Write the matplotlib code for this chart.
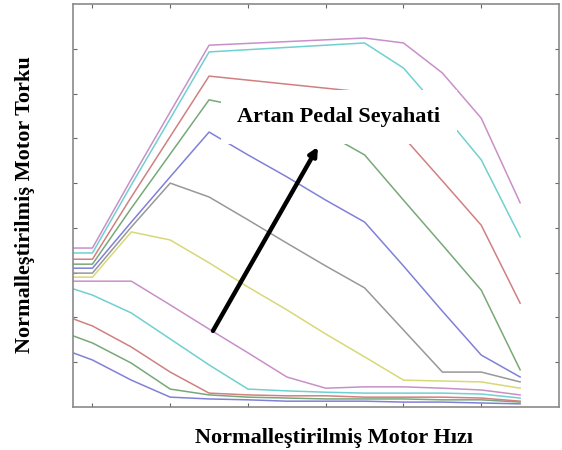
import numpy as np
import matplotlib.pyplot as plt

# normalized motor speed grid (tick units)
speed = [0.75, 1.0, 1.5, 2.0, 2.5, 3.0, 3.5, 4.0, 4.5, 5.0, 5.5, 6.0, 6.5]

# torque curves, lowest pedal travel first
t01 = [0.121, 0.105, 0.060, 0.022, 0.018, 0.016, 0.013, 0.013, 0.013, 0.011, 0.011, 0.009, 0.007]
t02 = [0.159, 0.143, 0.098, 0.040, 0.027, 0.022, 0.020, 0.018, 0.018, 0.018, 0.016, 0.016, 0.011]
t03 = [0.197, 0.181, 0.134, 0.078, 0.031, 0.027, 0.025, 0.025, 0.022, 0.022, 0.022, 0.020, 0.013]
t04 = [0.264, 0.250, 0.210, 0.152, 0.094, 0.040, 0.036, 0.033, 0.031, 0.031, 0.031, 0.029, 0.020]
t05 = [0.281, 0.281, 0.281, 0.228, 0.174, 0.121, 0.067, 0.042, 0.045, 0.045, 0.042, 0.038, 0.027]
t06 = [0.290, 0.290, 0.391, 0.373, 0.322, 0.268, 0.217, 0.163, 0.112, 0.060, 0.058, 0.056, 0.042]
t07 = [0.299, 0.299, 0.402, 0.500, 0.469, 0.418, 0.366, 0.315, 0.266, 0.172, 0.078, 0.078, 0.056]
t08 = [0.310, 0.310, 0.413, 0.514, 0.614, 0.563, 0.514, 0.462, 0.413, 0.315, 0.214, 0.116, 0.067]
t09 = [0.319, 0.319, 0.444, 0.565, 0.686, 0.668, 0.641, 0.612, 0.563, 0.462, 0.362, 0.261, 0.083]
t10 = [0.330, 0.330, 0.469, 0.604, 0.739, 0.730, 0.721, 0.712, 0.703, 0.603, 0.505, 0.406, 0.232]
t11 = [0.344, 0.344, 0.496, 0.644, 0.793, 0.798, 0.803, 0.808, 0.813, 0.757, 0.657, 0.552, 0.380]
t12 = [0.355, 0.355, 0.509, 0.659, 0.808, 0.812, 0.816, 0.820, 0.824, 0.813, 0.746, 0.645, 0.456]

curves = [t01, t02, t03, t04, t05, t06, t07, t08, t09, t10, t11, t12]

# washed-out matlab color order b g r c m y k
cols = ['#8080d8', '#78a878', '#d08080', '#70d0d0', '#c890c8', '#d8d878', '#989898']

plt.rcParams['font.family'] = ['Liberation Serif', 'DejaVu Serif']

fig = plt.figure(figsize=(5.62, 4.5), dpi=100)
ax = fig.add_axes([73/562, 43/450, 486/562, 403/450])

for i, c in enumerate(curves):
    ax.plot(speed, c, color=cols[i % 7], lw=1.1, zorder=2)

ax.set_xlim(0.75, 7.0)
ax.set_ylim(0, 0.9)
ax.set_xticks([1, 2, 3, 4, 5, 6])
ax.set_yticks(np.arange(0.1, 0.85, 0.1))
ax.tick_params(direction='in', length=3, top=True, right=True,
               labelbottom=False, labelleft=False, color='#666666')
for s in ax.spines.values():
    s.set_color('#8a8a8a')
    s.set_linewidth(1.2)

ax.text(4.17, 0.648, 'Artan Pedal Seyahati', fontsize=16, fontweight='bold',
        ha='center', va='center', zorder=4,
        bbox=dict(boxstyle='square,pad=0.75', fc='white', ec='none'))

ax.annotate('', xy=(3.90, 0.581), xytext=(2.55, 0.170), zorder=5,
            arrowprops=dict(arrowstyle='-|>', color='black', lw=3.2,
                            mutation_scale=12, shrinkA=0, shrinkB=0))

fig.text(334/562, 1 - 438/450, 'Normalleştirilmiş Motor Hızı', fontsize=16,
         fontweight='bold', ha='center', va='center')
fig.text(25/562, 1 - 205/450, 'Normalleştirilmiş Motor Torku', fontsize=16,
         fontweight='bold', ha='center', va='center', rotation=90)

fig.savefig('out.png', dpi=100)
